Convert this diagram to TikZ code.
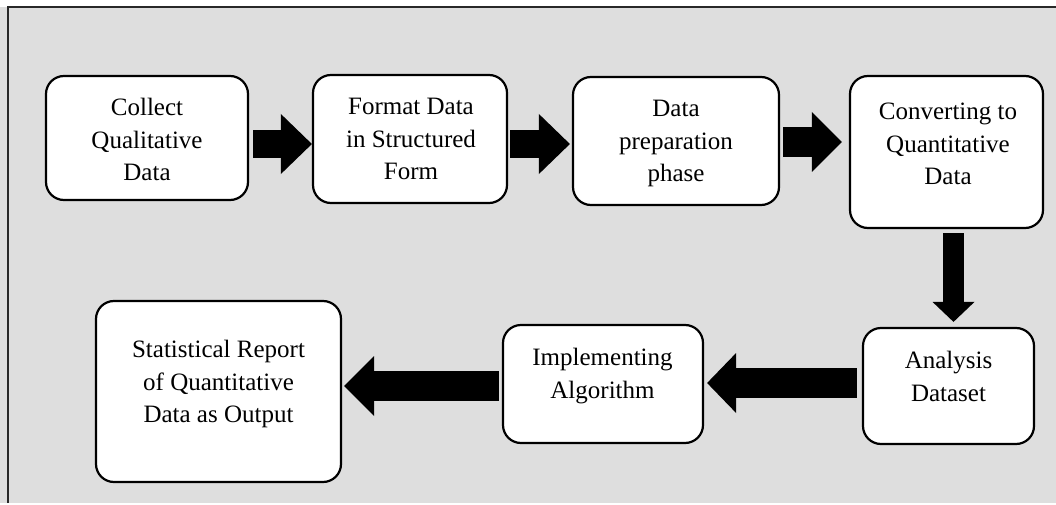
\documentclass[tikz,border=0pt]{standalone}
\usepackage{fontspec}
\setmainfont{Liberation Serif}
\usetikzlibrary{arrows.meta,calc}
\definecolor{bggray}{RGB}{222,222,222}
\definecolor{framecol}{RGB}{40,40,40}
\tikzset{
  stepbox/.style={draw=black, fill=white, line width=2.2pt, rounded corners=18pt, inner sep=0pt},
  boxtext/.style={anchor=north, inner sep=0pt, align=center, font=\fontsize{25}{32.5}\selectfont},
  fatarrow/.style={line width=#1, draw=black},
}
\begin{document}
\begin{tikzpicture}[x=1pt,y=-1pt]
\useasboundingbox (0,0) rectangle (1056,505);
\fill[bggray] (0,7) rectangle (1056,503);
\draw[framecol, line width=2pt] (8,503) -- (8,7) -- (1056,7);

% boxes
\node[stepbox, minimum width=202pt, minimum height=124pt] (b1) at (147,138) {};
\node[stepbox, minimum width=194pt, minimum height=128pt] (b2) at (410,139) {};
\node[stepbox, minimum width=206pt, minimum height=128pt] (b3) at (676,141) {};
\node[stepbox, minimum width=193pt, minimum height=152pt] (b4) at (946.5,152) {};
\node[stepbox, minimum width=171pt, minimum height=116pt] (b5) at (948.5,386) {};
\node[stepbox, minimum width=200pt, minimum height=118pt] (b6) at (603,384) {};
\node[stepbox, minimum width=245pt, minimum height=181pt] (b7) at (218.5,391.5) {};

% texts
\node[boxtext] (t1) at (147,98) {Collect\\Qualitative\\Data};
\node[boxtext] (t2) at (411,98) {Format Data\\in Structured\\Form};
\node[boxtext] (t3) at (676,100) {Data\\preparation\\phase};
\node[boxtext] (t4) at (948,103) {Converting to\\Quantitative\\Data};
\node[boxtext] (t5) at (948.5,351) {Analysis\\Dataset};
\node[boxtext] (t6) at (602.5,348) {Implementing\\Algorithm};
\node[boxtext] (t7) at (218.5,340) {Statistical Report\\of Quantitative\\Data as Output};

% arrows
\draw[fatarrow=28pt, -{Triangle[length=31pt,width=60pt,line width=0pt]}]
  ([xshift=4pt]b1.east |- 0,144) -- (b2.west |- 0,144);
\draw[fatarrow=28pt, -{Triangle[length=31pt,width=60pt,line width=0pt]}]
  ([xshift=2pt]b2.east |- 0,144) -- ([xshift=-2pt]b3.west |- 0,144);
\draw[fatarrow=30pt, -{Triangle[length=30pt,width=60pt,line width=0pt]}]
  ([xshift=3pt]b3.east |- 0,142) -- ([xshift=-7pt]b4.west |- 0,142);
\draw[fatarrow=21pt, -{Triangle[length=20pt,width=42pt,line width=0pt]}]
  ([yshift=-4pt]b4.south -| 953.5,0) -- ([yshift=5pt]b5.north -| 953.5,0);
\draw[fatarrow=30pt, -{Triangle[length=29pt,width=60pt,line width=0pt]}]
  ([xshift=-5pt]b5.west |- 0,383) -- ([xshift=3pt]b6.east |- 0,383);
\draw[fatarrow=30pt, -{Triangle[length=30pt,width=60pt,line width=0pt]}]
  ([xshift=-3pt]b6.west |- 0,386) -- ([xshift=2pt]b7.east |- 0,386);
\end{tikzpicture}
\end{document}
